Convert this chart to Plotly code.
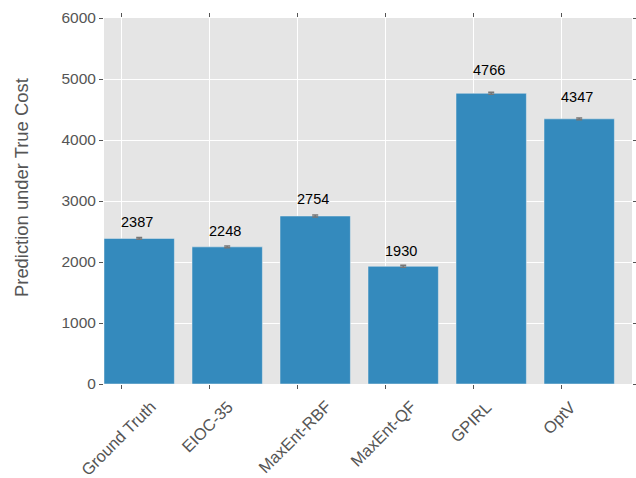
import plotly.graph_objects as go

categories = ["Ground Truth", "EIOC-35", "MaxEnt-RBF", "MaxEnt-QF", "GPIRL", "OptV"]
values = [2387, 2248, 2754, 1930, 4766, 4347]
errors = [15, 15, 15, 15, 15, 15]
yticks = [0, 1000, 2000, 3000, 4000, 5000, 6000]

n = len(categories)
bar_x = [i + 0.4 for i in range(n)]
tick_x = [i + 0.2 for i in range(n)]

FONT = "Liberation Sans, Arial, sans-serif"
GRAY = "#555555"

fig = go.Figure()
fig.add_trace(go.Bar(
    x=bar_x, y=values, width=0.8,
    marker=dict(color="#348ABD", line=dict(color="#EEEEEE", width=0.5)),
    error_y=dict(type="data", array=errors, visible=True, color="#777777",
                 thickness=1.5, width=3),
    showlegend=False,
))

for x, v in zip(bar_x, values):
    fig.add_annotation(x=x, y=1.05 * v, text=str(v), showarrow=False,
                       yanchor="bottom", xanchor="center", yshift=-1, xshift=-2,
                       font=dict(family=FONT, size=14.5, color="black"))

# rotated category labels, centred under each tick
for x, c in zip(tick_x, categories):
    fig.add_annotation(x=x, xref="x", y=0, yref="paper", text=c, showarrow=False,
                       textangle=-45, xanchor="center", yanchor="top",
                       xshift=-3, yshift=-11,
                       font=dict(family=FONT, size=16.5, color=GRAY))

# y axis title
fig.add_annotation(x=(21 - 104) / 528, xref="paper", y=0.5355, yref="paper",
                   text="Prediction under True Cost", showarrow=False,
                   textangle=-90, xanchor="center", yanchor="middle",
                   font=dict(family=FONT, size=18.4, color=GRAY))

fig.update_layout(
    width=636, height=478,
    margin=dict(l=104, r=4, t=18, b=94),
    paper_bgcolor="white", plot_bgcolor="#E5E5E5",
    font=dict(family=FONT, color=GRAY),
)
fig.update_xaxes(
    range=[0, n], tickvals=tick_x, ticktext=[""] * n,
    showgrid=True, gridcolor="white", gridwidth=1,
    ticks="outside", ticklen=4, tickcolor=GRAY, tickwidth=1,
    mirror="ticks", showline=False, zeroline=False,
)
fig.update_yaxes(
    range=[0, 6000], tickvals=yticks,
    tickfont=dict(size=15.5, color=GRAY),
    showgrid=True, gridcolor="white", gridwidth=1,
    ticks="outside", ticklen=4, tickcolor=GRAY, tickwidth=1,
    mirror="ticks", showline=False, zeroline=False,
)

fig.write_html("out.html")
